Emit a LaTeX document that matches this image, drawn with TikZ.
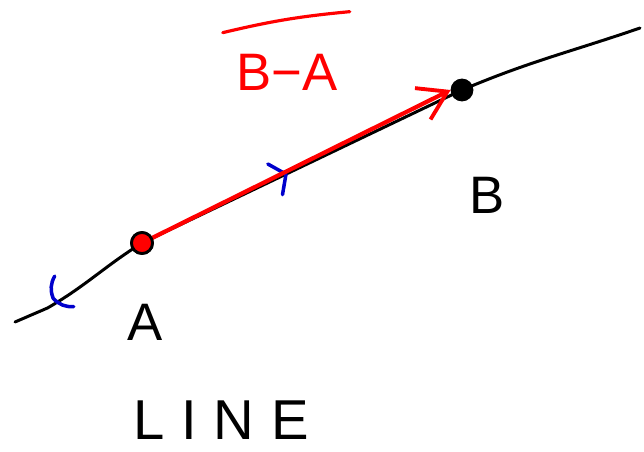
\documentclass[tikz,border=0pt]{standalone}
\usepackage{fontspec}
\setmainfont{Liberation Sans}
\usetikzlibrary{arrows.meta,positioning,calc,decorations.markings}

\begin{document}
\begin{tikzpicture}[line cap=round, line join=round,
			pt/.style={circle, draw=black, line width=1.6pt, inner sep=0pt, minimum size=4.2mm},
			lbl/.style={font=\fontsize{30}{32}\selectfont},
			vec/.style={red, line width=2.4pt, -{Straight Barb[length=5.5mm, width=7mm, line width=2.2pt]}},
			chev/.style={decorate, decoration={markings, mark=at position #1 with {\draw[blue!80!black, line width=2pt] (-2.4mm,3.4mm) -- (0,0) -- (-2.4mm,-3.4mm);}}},
			chevc/.style={decorate, decoration={markings, mark=at position #1 with {\draw[blue!80!black, line width=2pt] (-2.6mm,3.6mm) to[bend left=25] (0,0) to[bend left=25] (-2.6mm,-3.6mm);}}}]
			\useasboundingbox (0,0) rectangle (12.88,9.02);
			% the line and its two points
			\coordinate (lstart) at (0.30,2.58);
			\coordinate (lkink) at (0.95,2.86);
			\coordinate (lend) at (12.80,8.46);
			\node[pt, fill=red] (ptA) at (2.84,4.16) {};
			\node[pt, fill=black, minimum size=4mm] (ptB) at (9.24,7.22) {};
			\draw[line width=1.7pt] (lstart) -- (lkink) to[out=30,in=212] (ptA.center) -- (ptB.center) to[out=23,in=199] (lend);
			% direction marks
			\path[chev=0.45] (ptA.center) -- (ptB.center);
			\path[chevc=0.7] (ptA.center) -- (lstart);
			% the vector from A to B
			\draw[vec] (ptA.center) -- (ptB.west);
			\node[pt, fill=red] at (ptA) {};
			% labels
			\node[lbl] (labA) at (2.90,2.58) {A};
			\node[lbl] (labB) at (9.74,5.12) {B};
			\node[lbl, text=red] (labBA) at (5.74,7.58) {B−A};
			\draw[red, line width=1.8pt] ($(labBA.north west)+(-0.15,0.3)$) to[bend left=4] ($(labBA.north east)+(0.12,0.72)$);
			\node[lbl, font=\fontsize{32}{34}\selectfont\addfontfeature{LetterSpace=30}] (title) at (4.42,0.62) {LINE};
		\end{tikzpicture}
\end{document}
